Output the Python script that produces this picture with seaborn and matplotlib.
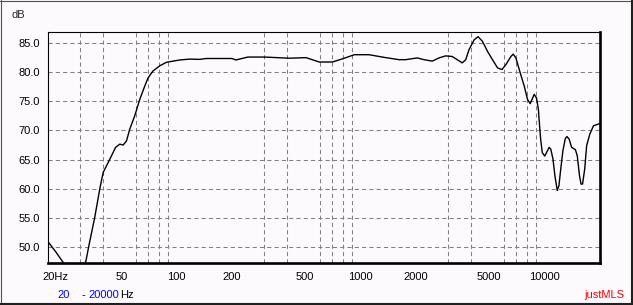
import matplotlib
matplotlib.use("Agg")
import matplotlib.pyplot as plt
import matplotlib.transforms as mtrans
from matplotlib.lines import Line2D
from matplotlib.ticker import FixedLocator, NullFormatter
import numpy as np
import pandas as pd
import seaborn as sns

# ---------------- data ----------------
freq_hz = [20, 22, 24, 26, 29, 32.1, 33.4, 35.9, 38.3, 39.9, 43.4, 46.6, 49.1, 51.2,
           53.4, 55.6, 59.2, 63.0, 67.1, 69.9, 74.4, 81, 88, 104, 118, 133, 145,
           200, 210, 244, 300, 410, 505, 596, 702, 798, 924, 1112, 1340, 1616,
           1756, 2032, 2210, 2452, 2666, 2896, 3146, 3350, 3568, 3726, 3882, 4138,
           4350, 4592, 4890, 5208, 5546, 5860, 6160, 6560, 6752, 6980, 7280, 7752,
           8080, 8352, 8778, 9030, 9254, 9332, 9516, 9712, 10016, 10580, 10800,
           11100, 11380, 11712, 11960, 12210, 12570, 12950, 13220, 13600, 14020,
           14700, 15050, 15480, 15780, 16080, 16520, 16920, 17600, 18420, 20000]
level_db = [50.9, 49.2, 47.5, 46.0, 45.3, 47.5, 50.3, 55.1, 60.1, 62.8, 65.1, 67.1,
            67.65, 67.5, 68.2, 70.2, 72.5, 75.3, 77.6, 79.0, 80.2, 81.1, 81.7, 82.1,
            82.25, 82.2, 82.35, 82.35, 82.1, 82.6, 82.6, 82.4, 82.5, 81.75, 81.75,
            82.3, 83.0, 83.0, 82.55, 82.15, 82.15, 82.45, 82.15, 81.9, 82.45, 82.8,
            82.7, 82.15, 81.6, 82.15, 83.85, 85.55, 86.1, 85.3, 83.6, 82.15, 80.75,
            80.45, 81.3, 82.7, 83.1, 82.45, 80.45, 77.6, 75.3, 74.6, 76.2, 75.6,
            73.6, 71.9, 68.5, 66.2, 65.6, 67.1, 66.8, 65.1, 62.2, 59.7, 60.5, 63.1,
            66.5, 68.6, 68.95, 68.5, 67.1, 66.7, 65.65, 62.2, 60.8, 60.8, 63.4, 67.4,
            69.35, 70.8, 71.2]

x_tick_values = [20, 50, 100, 200, 500, 1000, 2000, 5000, 10000]
x_tick_labels = ["20Hz", "50", "100", "200", "500", "1000", "2000", "5000", "10000"]
x_grid_values = [30, 40, 50, 60, 70, 80, 90, 100, 200, 300, 400, 500, 600, 700, 800,
                 900, 1000, 2000, 3000, 4000, 5000, 6000, 7000, 8000, 9000, 10000]
y_tick_values = [50, 55, 60, 65, 70, 75, 80, 85]
y_tick_labels = ["50.0", "55.0", "60.0", "65.0", "70.0", "75.0", "80.0", "85.0"]

# ---------------- style ----------------
sns.set_style("white")
plt.rcParams["font.family"] = ["Liberation Sans", "DejaVu Sans"]
plt.rcParams["font.size"] = 8

BG = "#fcfafd"
W, H = 633, 305
fig = plt.figure(figsize=(W / 100, H / 100), dpi=100, facecolor=BG)
ax = fig.add_axes([48 / W, (H - 263) / H, 552 / W, 231 / H])
ax.set_facecolor(BG)

df = pd.DataFrame({"Hz": freq_hz, "dB": level_db})
sns.lineplot(data=df, x="Hz", y="dB", ax=ax, color="black", linewidth=1.0,
             estimator=None, sort=False)

ax.set_xscale("log")
ax.set_xlim(20, 20000)
ax.set_ylim(47.25, 86.9)

ax.set_xticks(x_tick_values)
ax.set_xticklabels(x_tick_labels)
ax.xaxis.set_minor_locator(FixedLocator(x_grid_values))
ax.xaxis.set_minor_formatter(NullFormatter())
ax.set_yticks(y_tick_values)
ax.set_yticklabels(y_tick_labels)
ax.set_xlabel("")
ax.set_ylabel("")

ax.tick_params(which="both", length=0)
ax.tick_params(axis="x", pad=6.5, labelsize=8, colors="black")
ax.tick_params(axis="y", pad=5.8, labelsize=8, colors="black")

ax.grid(False)
ax.xaxis.grid(True, which="minor", color="#808080", linestyle=(0, (4, 3)), linewidth=0.75)
ax.yaxis.grid(True, which="major", color="#808080", linestyle=(0, (4, 3)), linewidth=0.75)
ax.set_axisbelow(True)

for s in ["top", "left"]:
    ax.spines[s].set_linewidth(0.8)
    ax.spines[s].set_color("black")
for s in ["right", "bottom"]:
    ax.spines[s].set_linewidth(1.9)
    ax.spines[s].set_color("black")
    ax.spines[s].set_visible(True)
ax.spines["top"].set_visible(True)
ax.spines["left"].set_visible(True)

# first tick label "20Hz": '20' centred on the tick
lab0 = ax.get_xticklabels()[0]
lab0.set_ha("left")
lab0.set_transform(lab0.get_transform() + mtrans.ScaledTranslation(-5.5 / 100, 0, fig.dpi_scale_trans))

# texts
fig.text(11 / W, 1 - 15 / H, "dB", ha="left", va="center", fontsize=8)
yb = 1 - 295.5 / H
fig.text(57 / W, yb, "20", color="#0000ff", ha="left", va="center", fontsize=8)
fig.text(81 / W, yb, "-", color="black", ha="left", va="center", fontsize=8)
fig.text(88 / W, yb, "20000", color="#0000ff", ha="left", va="center", fontsize=8)
fig.text(120 / W, yb, "Hz", color="black", ha="left", va="center", fontsize=8)
fig.text(584 / W, 1 - 295 / H, "justMLS", color="#ff0000", ha="left", va="center", fontsize=8)

# outer frame
def px_line(x0, y0, x1, y1, color, lw):
    fig.add_artist(Line2D([x0 / W, x1 / W], [1 - y0 / H, 1 - y1 / H],
                          transform=fig.transFigure, color=color, linewidth=lw))

px_line(0.5, 0, 0.5, H, "#505050", 0.8)
px_line(0, 0.5, W, 0.5, "#505050", 0.8)
px_line(W - 1.5, 0, W - 1.5, H, "#202020", 1.5)
px_line(0, H - 1.5, W, H - 1.5, "#202020", 1.5)

fig.savefig("out.png", dpi=100, facecolor=BG)
